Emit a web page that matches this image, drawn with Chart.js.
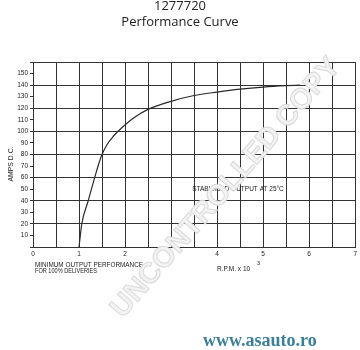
<!DOCTYPE html>
<html>
<head>
<meta charset="utf-8">
<script src="https://cdn.jsdelivr.net/npm/chart.js@4.4.1/dist/chart.umd.min.js"></script>
<style>
    html, body { margin: 0; padding: 0; background: #fff; }
    #wrap { width: 360px; height: 350px; }
</style>
</head>
<body>
<div id="wrap"><canvas id="grafico"></canvas></div>
<script>
// curve
const rpm = [1, 1.06, 1.2, 1.34, 1.48, 1.6, 1.75, 1.9, 2.2, 2.5, 3, 3.5, 4, 4.5, 5, 5.5, 5.8];
const amps = [0, 20, 40, 60, 78, 88, 96, 102, 112, 119, 126, 131, 134, 136.5, 138.3, 139.5, 140];

const rpmLabels = [0, 1, 2, 3, 4, 5, 6, 7];
const ampLabels = [10, 20, 30, 40, 50, 60, 70, 80, 90, 100, 110, 120, 130, 140, 150];

const titulo = ["1277720", "Performance Curve"];
const eixoY = "AMPS D.C.";
const notaCurva = "STABILISED OUTPUT AT 25°C";
const notaMinimo = ["MINIMUM OUTPUT PERFORMANCE", "FOR 100% DELIVERIES"];
const eixoX = "R.P.M. x 10";
const marcaAgua = "UNCONTROLLED COPY";
const site = "www.asauto.ro";

const gridColor = "#333";
const tickFont = "Liberation Sans";

const textos = {
    id: "textos",
    afterDraw(chart) {
        const ctx = chart.ctx;
        ctx.save();

        ctx.fillStyle = "#222";
        ctx.textAlign = "center";
        ctx.textBaseline = "middle";
        ctx.font = "13px 'Open Sans'";
        ctx.fillText(titulo[0], 180, 6);
        ctx.fillText(titulo[1], 180, 22);

        ctx.font = "6.5px " + tickFont;
        ctx.fillText(notaCurva, 238, 189, 101);

        ctx.textAlign = "left";
        ctx.fillText(notaMinimo[0], 35, 265, 108);
        ctx.fillText(notaMinimo[1], 35, 271.5, 62);
        ctx.fillText(eixoX, 217, 269, 36);
        ctx.font = "5.5px " + tickFont;
        ctx.fillText("3", 257, 263);

        ctx.save();
        ctx.translate(11, 164);
        ctx.rotate(-Math.PI / 2);
        ctx.textAlign = "center";
        ctx.font = "7px " + tickFont;
        ctx.fillText(eixoY, 0, 0, 35);
        ctx.restore();

        // watermark
        ctx.save();
        ctx.translate(226, 188);
        ctx.rotate(-49 * Math.PI / 180);
        ctx.textAlign = "center";
        ctx.font = "bold 29px 'Liberation Sans'";
        ctx.fillStyle = "#f3f3f3";
        ctx.strokeStyle = "#d9d9d9";
        ctx.lineWidth = 1;
        ctx.fillText(marcaAgua, 0, 0, 395);
        ctx.strokeText(marcaAgua, 0, 0, 395);
        ctx.restore();

        ctx.textAlign = "left";
        ctx.font = "bold 18px 'Liberation Serif'";
        ctx.fillStyle = "#3d7f99";
        ctx.fillText(site, 203, 341, 127);

        ctx.restore();
    }
};

new Chart(document.getElementById("grafico"), {
    type: "line",
    data: {
        datasets: [{
            data: rpm.map((r, i) => ({ x: r, y: amps[i] })),
            borderColor: "#2a2a2a",
            borderWidth: 1.2,
            pointRadius: 0,
            cubicInterpolationMode: "monotone",
            fill: false
        }]
    },
    options: {
        responsive: true,
        maintainAspectRatio: false,
        animation: false,
        layout: {
            padding: { top: 62, right: 4, left: 0, bottom: 0 }
        },
        plugins: {
            legend: { display: false },
            tooltip: { enabled: false }
        },
        scales: {
            x: {
                type: "linear",
                min: 0,
                max: 7,
                afterFit: s => { s.height = 103; },
                border: { color: gridColor },
                grid: {
                    color: gridColor,
                    drawTicks: false
                },
                ticks: {
                    stepSize: 0.5,
                    autoSkip: false,
                    maxRotation: 0,
                    padding: 3,
                    color: "#222",
                    font: { family: tickFont, size: 6.5 },
                    callback: v => rpmLabels.includes(v) ? String(v) : ""
                }
            },
            y: {
                min: 0,
                max: 160,
                afterFit: s => { s.width = 33; },
                border: { color: gridColor },
                grid: {
                    color: c => c.tick && c.tick.value % 20 === 0 ? gridColor : "rgba(0,0,0,0)",
                    tickColor: gridColor,
                    tickLength: 3
                },
                ticks: {
                    stepSize: 10,
                    autoSkip: false,
                    padding: 2,
                    color: "#222",
                    font: { family: tickFont, size: 6.5 },
                    callback: v => ampLabels.includes(v) ? String(v) : ""
                }
            }
        }
    },
    plugins: [textos]
});
</script>
</body>
</html>
